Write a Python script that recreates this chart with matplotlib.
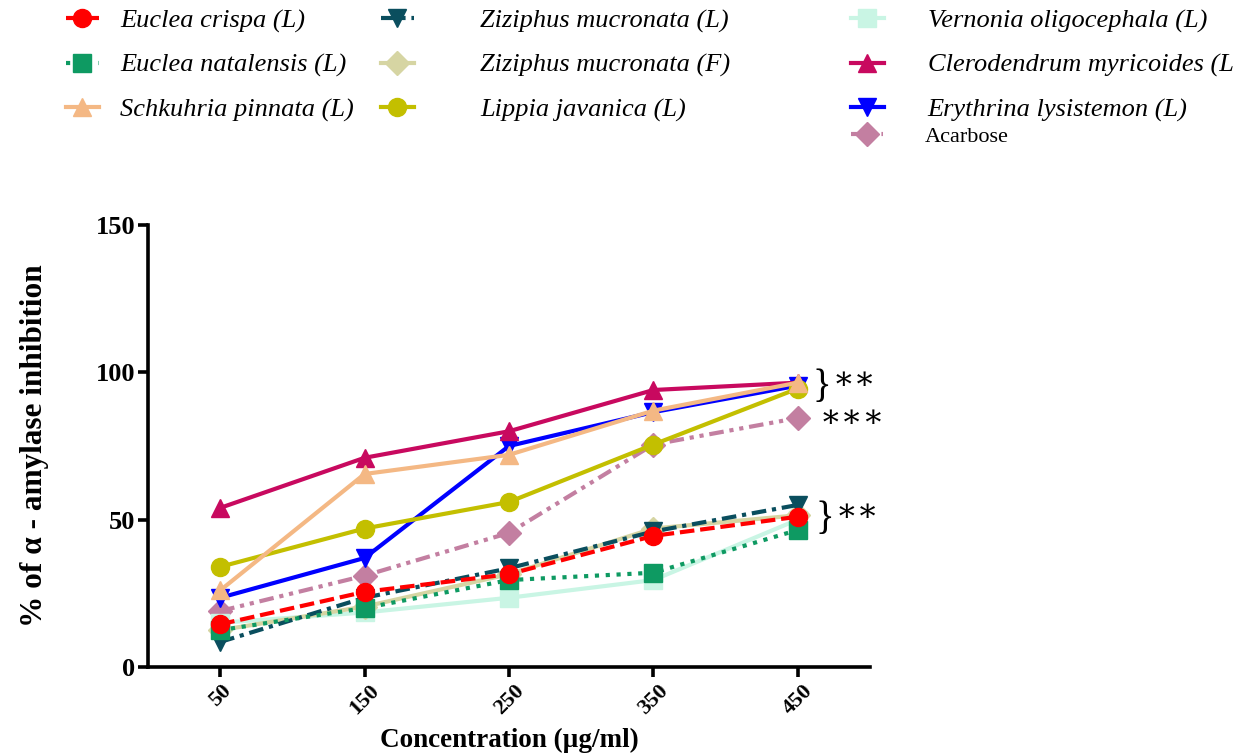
import matplotlib
matplotlib.use("Agg")
import matplotlib.pyplot as plt

plt.rcParams['font.family'] = ['Liberation Serif', 'DejaVu Serif']

# concentrations (µg/ml)
conc = [50, 150, 250, 350, 450]

euclea_crispa = [14.5, 25.5, 31.5, 44.5, 51]
euclea_natalensis = [12.5, 20, 29.5, 32, 46.5]
schkuhria_pinnata = [26, 65.5, 72, 87, 96.5]
ziziphus_l = [8.5, 23.5, 33.5, 46, 55]
ziziphus_f = [12.5, 20.5, 31.5, 47, 51.5]
lippia_javanica = [34, 47, 56, 75.5, 94.5]
vernonia_oligocephala = [15, 18.5, 23.5, 29.5, 50]
clerodendrum_myricoides = [54, 71, 80, 94, 96.5]
erythrina_lysistemon = [23.5, 37, 75, 86.5, 95.5]
acarbose = [19, 31, 45.5, 75.5, 84.5]

series = [
    ("Euclea crispa (L)", euclea_crispa, "#FF0000", "o", (0, (3.5, 1.4))),
    ("Euclea natalensis (L)", euclea_natalensis, "#0E9A62", "s", (0, (1, 1.6))),
    ("Schkuhria pinnata (L)", schkuhria_pinnata, "#F4B884", "^", "-"),
    ("Ziziphus mucronata (L)", ziziphus_l, "#0A4E5E", "v", (0, (3.5, 1.4, 1, 1.4))),
    ("Ziziphus mucronata (F)", ziziphus_f, "#D6D5A3", "D", "-"),
    ("Lippia javanica (L)", lippia_javanica, "#C3BF00", "o", "-"),
    ("Vernonia oligocephala (L)", vernonia_oligocephala, "#C9F5E4", "s", "-"),
    ("Clerodendrum myricoides (L", clerodendrum_myricoides, "#C8095F", "^", "-"),
    ("Erythrina lysistemon (L)", erythrina_lysistemon, "#0000FF", "v", "-"),
    ("Acarbose", acarbose, "#C37FA1", "D", (0, (3.5, 1.4, 1, 1.4, 1, 1.4))),
]

fig = plt.figure(figsize=(12.41, 7.53), dpi=100)
ax = fig.add_axes([148 / 1241, 86 / 753, 722 / 1241, 442 / 753])

handles = []
n = len(series)
for i, (name, vals, col, mk, ls) in enumerate(series):
    ms = 12 if mk == "D" else 13
    line, = ax.plot(conc, vals, color=col, marker=mk, linestyle=ls, linewidth=3,
                    markersize=ms, label=name, zorder=3 + n - i, clip_on=False)
    handles.append(line)

ax.set_xlim(0, 500)
ax.set_ylim(0, 150)
ax.set_xticks(conc)
ax.set_xticklabels([str(c) for c in conc], rotation=45, ha='center', va='top')
ax.set_yticks([0, 50, 100, 150])
for s in ['top', 'right']:
    ax.spines[s].set_visible(False)
for s in ['left', 'bottom']:
    ax.spines[s].set_linewidth(2.6)
ax.tick_params(width=2.6, length=7)
ax.tick_params(axis='y', labelsize=19, pad=2)
ax.tick_params(axis='x', labelsize=16, pad=3)
for lbl in ax.get_xticklabels() + ax.get_yticklabels():
    lbl.set_fontweight('bold')

ax.set_ylabel("% of α - amylase inhibition", fontsize=22.5, fontweight='bold', labelpad=34)
ax.set_xlabel("Concentration (µg/ml)", fontsize=19.5, fontweight='bold', labelpad=7)

# significance marks
ax.text(460, 95, "}", fontsize=28, va='center', ha='left', clip_on=False)
ax.text(474, 97, "∗∗", fontsize=23, va='center', ha='left', clip_on=False)
ax.text(465, 84, "∗∗∗", fontsize=23, va='center', ha='left', clip_on=False)
ax.text(462, 50, "}", fontsize=28, va='center', ha='left', clip_on=False)
ax.text(476, 52, "∗∗", fontsize=23, va='center', ha='left', clip_on=False)

# legends above the plot, one per column
ital = {'size': 19, 'style': 'italic'}
cols = [
    (handles[0:3], 66, 0.8),
    (handles[3:6], 381, 2.5),
    (handles[6:9], 851, 1.65),
]
for hs, xpx, pad in cols:
    fig.legend(handles=hs, loc='upper left', bbox_to_anchor=(xpx / 1241, 1 - 9 / 753),
               frameon=False, prop=ital, handlelength=1.25, handletextpad=pad,
               labelspacing=0.78, borderpad=0, borderaxespad=0, numpoints=1)
fig.legend(handles=handles[9:], loc='upper left', bbox_to_anchor=(851 / 1241, 1 - 126 / 753),
           frameon=False, prop={'size': 16}, handlelength=1.45, handletextpad=1.85,
           borderpad=0, borderaxespad=0, numpoints=1)

fig.savefig("out.png", dpi=100)
